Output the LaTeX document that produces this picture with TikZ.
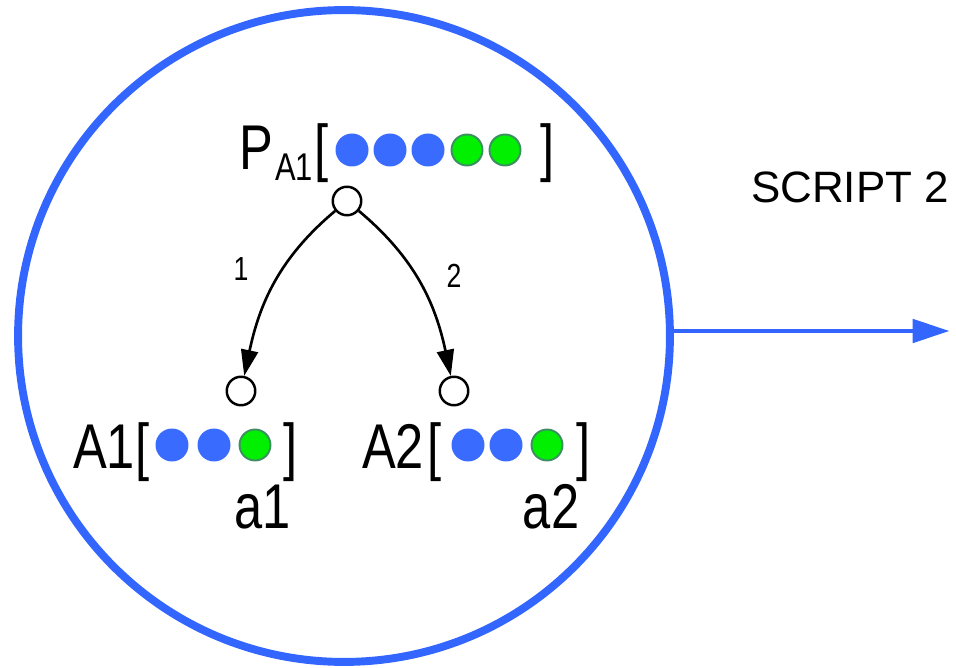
\documentclass[tikz,border=0pt]{standalone}
\usepackage{fontspec}
\usetikzlibrary{arrows.meta}
\newfontfamily\dinfont[FakeStretch=0.8]{Liberation Sans}
\newfontfamily\headfont{Liberation Sans}
\definecolor{scriptblue}{HTML}{3366FF}
\definecolor{dotblue}{HTML}{3A6BFF}
\definecolor{dotgreen}{HTML}{00F000}
\definecolor{dotedge}{HTML}{3C9060}
\newcommand{\drawstate}{\node[draw,circle,fill=white,line width=1.4pt,minimum size=0.57cm]}
\newcommand{\drawdotblue}{\node[circle,fill=dotblue,minimum size=0.66cm]}
\newcommand{\drawdotgreen}{\node[circle,draw=dotedge,fill=dotgreen,line width=1.1pt,minimum size=0.62cm]}
\newcommand{\drawtext}{\node[font=\dinfont\fontsize{36}{40}\selectfont,anchor=base]}
\newcommand{\drawdummy}{\node[minimum size=0,inner sep=0]}

\begin{document}
\begin{tikzpicture}[x=0.02cm, y=-0.02cm, every node/.style={inner sep=0},
  >={Triangle[length=0.52cm,width=0.34cm]}]
%script 2 with two agents
\useasboundingbox (0,0) rectangle (956,668);

\node[draw=scriptblue, line width=4.5pt, circle, minimum size=13.04cm] (script) at (344,336) {};
\drawdummy (out) at (950,331) {};
\node[font=\headfont\fontsize{25}{30}\selectfont, anchor=base] (title) at (850,203) {SCRIPT 2};

\drawtext (p) at (256,170) {P};
\node[font=\dinfont\fontsize{22}{24}\selectfont, anchor=base] (psub) at (294,181) {A1};
\drawtext (popen) at (322,170) {[};
\drawdotblue (p1) at (352,150) {};
\drawdotblue (p2) at (390,150) {};
\drawdotblue (p3) at (428,150) {};
\drawdotgreen (p4) at (467,150) {};
\drawdotgreen (p5) at (505,150) {};
\drawtext (pclose) at (548,170) {]};
\drawstate (s0) at (347,201) {};

\drawstate (s1) at (241,391) {};
\drawstate (s2) at (454,391) {};

\drawtext (a1) at (104,468) {A1};
\drawtext (a1open) at (143,468) {[};
\drawdotblue (a11) at (172,445) {};
\drawdotblue (a12) at (214,445) {};
\drawdotgreen (a13) at (255,445) {};
\drawtext (a1close) at (291,468) {]};
\drawtext (n1) at (263,528) {a1};

\drawtext (a2) at (393,468) {A2};
\drawtext (a2open) at (435,468) {[};
\drawdotblue (a21) at (468,445) {};
\drawdotblue (a22) at (506,445) {};
\drawdotgreen (a23) at (547,445) {};
\drawtext (a2close) at (584,468) {]};
\drawtext (n2) at (551,528) {a2};

\draw[->, line width=1.5pt] (s0) to [out=-140, in=78] node [pos=0.4, left=0.67cm, font=\dinfont\fontsize{19}{22}\selectfont] {1} (s1);
\draw[->, line width=1.5pt] (s0) to [out=-40, in=102] node [pos=0.45, right=0.59cm, font=\dinfont\fontsize{19}{22}\selectfont] {2} (s2);
\draw[-{Triangle[length=0.74cm,width=0.46cm]}, scriptblue, line width=2.8pt] (script.east |- out) to (out);
\end{tikzpicture}
\end{document}
